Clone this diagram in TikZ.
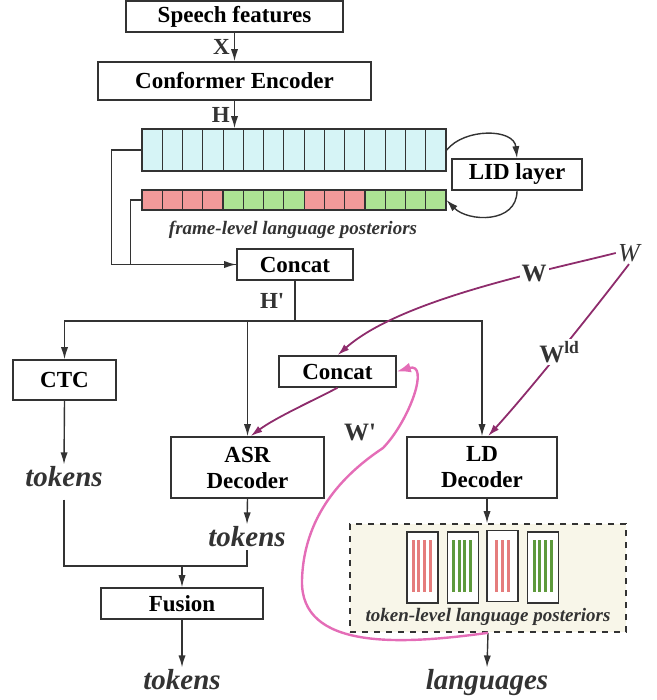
\documentclass[tikz,border=0pt]{standalone}
\usepackage{fontspec}
\setmainfont{Liberation Serif}
\usetikzlibrary{arrows.meta, positioning, calc, backgrounds}
\definecolor{linegray}{HTML}{333333}
\definecolor{cellB}{HTML}{D6F4F6}
\definecolor{cellR}{HTML}{F29A9A}
\definecolor{cellG}{HTML}{ADE394}
\definecolor{tokR}{HTML}{E57C7C}
\definecolor{tokG}{HTML}{5E9A3C}
\definecolor{wpurple}{HTML}{8E2C6C}
\definecolor{wpink}{HTML}{E46DB7}
\definecolor{panelfill}{HTML}{F8F6E9}
\tikzset{
  archbox/.style={rectangle, draw=linegray, line width=0.8pt, fill=white, align=center, inner sep=0pt, font=\fontsize{11.5}{13}\selectfont\bfseries},
  symlabel/.style={inner sep=1pt, font=\fontsize{11.5}{13}\selectfont\bfseries, text=linegray},
  outtext/.style={inner sep=1pt, font=\fontsize{14.5}{16}\selectfont\bfseries\itshape, text=linegray},
  captext/.style={inner sep=0pt, font=\fontsize{9.5}{11}\selectfont\bfseries\itshape, text=linegray},
  cardbox/.style={rectangle, draw=linegray, line width=0.8pt, fill=white, minimum width=15.5pt, minimum height=35.5pt, inner sep=0pt},
  arr/.style={-{Latex[length=6pt, width=3.6pt]}, line width=0.7pt, draw=linegray},
  plainline/.style={line width=0.7pt, draw=linegray},
  warr/.style={-{Latex[length=6pt, width=3.6pt]}, line width=0.9pt, draw=wpurple},
  parr/.style={-{Latex[length=7pt, width=5pt]}, line width=1.2pt, draw=wpink},
}

\begin{document}
\begin{tikzpicture}[x=0.5pt, y=-0.5pt]
  \useasboundingbox (0,0) rectangle (657,700);

  % Encoder
  \node[archbox, minimum width=108.5pt, minimum height=15.5pt] (speech) at (234.5,16.5) {Speech features};
  \node[archbox, minimum width=136.5pt, minimum height=19pt] (conformer) at (234.5,81) {Conformer Encoder};
  \draw[arr] (speech.south) -- (conformer.north) node[symlabel, midway, left=1pt] {X};

  % Frame-level LID
  \node[rectangle, draw=linegray, line width=0.8pt, fill=cellB, minimum width=152pt, minimum height=21pt, inner sep=0pt] (hbar) at (294,150) {};
  \foreach \i in {1,...,14}
    \draw[line width=0.55pt, linegray] (142+\i*20.267,129) -- (142+\i*20.267,171);
  \draw[arr] (conformer.south) -- (conformer.south |- hbar.north) node[symlabel, midway, left=1pt] {H};

  \node[rectangle, minimum width=152pt, minimum height=10pt, inner sep=0pt] (pbar) at (294,200) {};
  \foreach \c [count=\i from 0] in {R,R,R,R,G,G,G,G,R,R,R,G,G,G,G}
    \draw[line width=0.6pt, linegray, fill=cell\c] (142+\i*20.267,190) rectangle (162.267+\i*20.267,210);

  \node[archbox, minimum width=65pt, minimum height=15.5pt] (lid) at (517,174.5) {LID layer};
  \draw[arr] (hbar.east) .. controls (464,128) and (514,128) .. (lid.north);
  \draw[arr] (lid.south) .. controls (517,224) and (468,222) .. (pbar.east);
  \node[captext] (framecap) at (293,230) {frame-level language posteriors};

  \node[archbox, minimum width=58pt, minimum height=15.5pt] (concatA) at (295,264.5) {Concat};
  \draw[arr] (hbar.west) -- ++(-15pt,0) |- (concatA.west);
  \draw[plainline] (pbar.west) -- ++(-5.5pt,0) |- (concatA.west);

  % Decoders
  \draw[plainline] (concatA.south) -- ++(0,-20pt) coordinate (bus)
    node[symlabel, midway, left=4pt] {H\textquotesingle};
  \node[archbox, minimum width=51.5pt, minimum height=20pt] (ctc) at (64.5,380) {CTC};
  \node[archbox, minimum width=58.5pt, minimum height=15.5pt] (concatB) at (337.5,371.5) {Concat};
  \node[archbox, minimum width=76.5pt, minimum height=30.5pt] (asr) at (247.5,467.5) {ASR\\Decoder};
  \node[archbox, minimum width=75pt, minimum height=30.5pt] (ld) at (482,467.5) {LD\\Decoder};
  \draw[arr] (bus) -| (ctc.north);
  \draw[arr] (bus) -| (asr.north);
  \draw[arr] (bus) -| (ld.north);

  % Weights
  \node[inner sep=1pt, font=\fontsize{13}{14}\selectfont\itshape, text=linegray] (wsrc) at (629,253) {W};
  \draw[warr] (wsrc.west) .. controls (540,272) and (400,300) .. (concatB.north)
    node[symlabel, pos=0.3, fill=white, font=\fontsize{12.5}{14}\selectfont\bfseries] {W};
  \draw[warr] (wsrc.south) .. controls (590,315) and (530,390) .. ([xshift=3pt]ld.north)
    node[symlabel, pos=0.5, fill=white, font=\fontsize{12.5}{14}\selectfont\bfseries] {W\textsuperscript{ld}};
  \draw[warr] (concatB.south) .. controls (310,402) and (275,418) .. ([xshift=1.5pt]asr.north);
  \node[symlabel, font=\fontsize{12.5}{14}\selectfont\bfseries] (wprime) at (360,432) {W\textquotesingle};

  % Token-level posteriors
  \node[rectangle, draw=linegray, dashed, line width=0.8pt, fill=panelfill, minimum width=138pt, minimum height=54pt, inner sep=0pt] (tokbox) at (488,578) {};
  \node[cardbox] (card1) at (422.5,567.5) {};
  \node[cardbox] (card2) at (463,567.5) {};
  \node[cardbox] (card3) at (502.5,566) {};
  \node[cardbox] (card4) at (543,567.5) {};
  \foreach \xx in {413,418.7,424.4,430.1} \draw[line width=1.5pt, tokR] (\xx,540) -- (\xx,592);
  \foreach \xx in {453.5,459.2,464.9,470.6} \draw[line width=1.5pt, tokG] (\xx,540) -- (\xx,592);
  \foreach \xx in {496.8,502.5,508.2} \draw[line width=1.5pt, tokR] (\xx,540) -- (\xx,592);
  \foreach \xx in {534,539.7,545.4,551.1} \draw[line width=1.5pt, tokG] (\xx,540) -- (\xx,592);
  \node[captext] (tokcap) at (488,617) {token-level language posteriors};
  \draw[arr] ([xshift=2.5pt]ld.south) -- ([xshift=2.5pt]ld.south |- tokbox.north);

  % Outputs
  \node[outtext] (tokA) at (64,477) {tokens};
  \node[outtext] (tokB) at (247,537) {tokens};
  \node[archbox, minimum width=81pt, minimum height=15.5pt] (fusion) at (182,603.5) {Fusion};
  \node[outtext] (tokC) at (182,680) {tokens};
  \node[outtext] (langs) at (487,683) {languages};
  \coordinate (merge) at (182,566);
  \draw[arr] (ctc.south) -- (tokA.north);
  \draw[arr] (asr.south) -- (tokB.north);
  \draw[plainline] ([yshift=-5pt]tokA.south) |- (merge) -| (tokB.south);
  \draw[arr] (merge) -- (fusion.north);
  \draw[arr] (fusion.south) -- (tokC.north);
  \draw[arr] (tokbox.south) -- (langs.north);

  % Language feedback
  \draw[parr] (tokbox.south) .. controls (400,645) and (300,650) .. (302,580)
    .. controls (304,510) and (350,470) .. (383,448)
    .. controls (410,420) and (430,362) .. (concatB.east);
\end{tikzpicture}
\end{document}
